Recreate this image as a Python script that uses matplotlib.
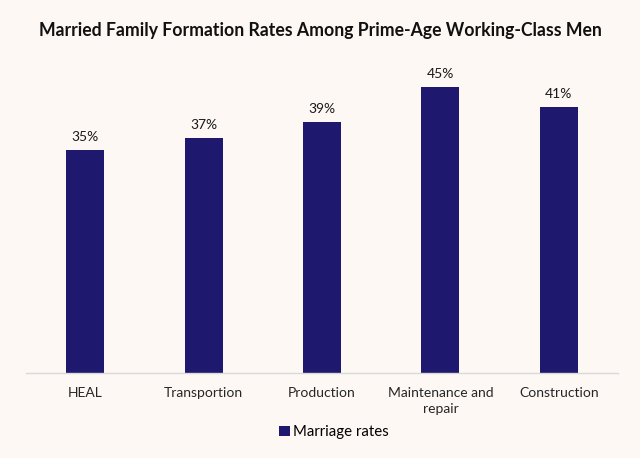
import matplotlib.pyplot as plt
import numpy as np

categories = ["HEAL", "Transportion", "Production", "Maintenance and\nrepair", "Construction"]
# bar heights; labels as printed on the chart
marriage_rates = [0.351, 0.370, 0.394, 0.450, 0.418]
rate_labels = ["35%", "37%", "39%", "45%", "41%"]

bg = "#fdf8f4"
bar_color = "#1e186f"

plt.rcParams['font.family'] = ['Lato', 'DejaVu Sans']

fig = plt.figure(figsize=(6.4, 4.58), dpi=100, facecolor=bg)
ax = fig.add_axes([0.0406, 0.1856, 0.925, 0.6944])
ax.set_facecolor(bg)

x = np.arange(len(categories))
bars = ax.bar(x, marriage_rates, width=0.32, color=bar_color, label="Marriage rates")

for xi, v, lab in zip(x, marriage_rates, rate_labels):
    ax.text(xi, v + 0.011, lab, ha="center", va="bottom",
            fontsize=10, color="#1a1a1a")

ax.set_xlim(-0.5, 4.5)
ax.set_ylim(0, 0.5)
ax.set_xticks(x)
ax.set_xticklabels(categories, fontsize=10, color="#262626", linespacing=1.45)
ax.tick_params(axis="x", length=0, pad=10)
ax.set_yticks([])
for s in ["top", "right", "left"]:
    ax.spines[s].set_visible(False)
ax.spines["bottom"].set_color("#d9d9d9")
ax.spines["bottom"].set_linewidth(1)

fig.text(0.5, 0.933, "Married Family Formation Rates Among Prime-Age Working-Class Men",
         ha="center", va="center", fontsize=12.7, fontweight="bold", color="#111111")

fig.legend(handles=[bars], labels=["Marriage rates"], loc="center",
           bbox_to_anchor=(0.522, 0.056), frameon=False, fontsize=10.8,
           handlelength=0.7, handleheight=0.7, handletextpad=0.25)

plt.savefig("out.png", dpi=100, facecolor=bg)
